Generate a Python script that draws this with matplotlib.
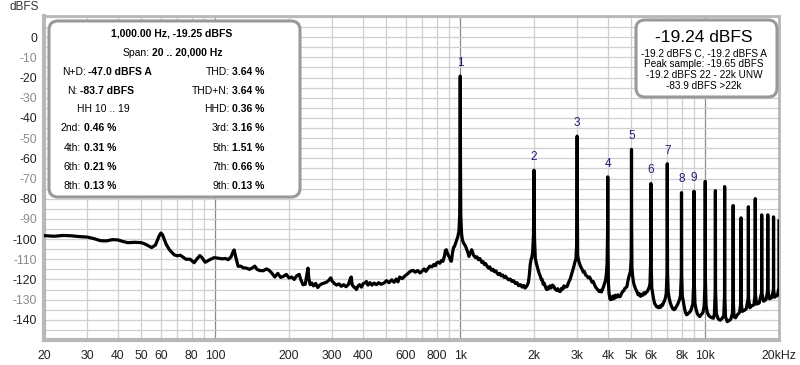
import matplotlib
matplotlib.use("Agg")
import matplotlib.pyplot as plt
from matplotlib.patches import FancyBboxPatch
from matplotlib.ticker import FixedLocator, NullFormatter

plt.rcParams["font.family"] = ["Liberation Sans", "DejaVu Sans"]

# ---------------------------------------------------------------------------
# Spectrum, (Hz, dBFS) pairs per frequency region
# ---------------------------------------------------------------------------
seg_20_600 = [
    (20, -98.3), (22, -98.6), (24, -98.2), (26, -98.4), (28, -98.8), (30, -99.0),
    (32, -99.8), (34, -100.8), (36, -100.9), (38, -100.3), (40, -100.4), (42, -101.2),
    (44, -101.8), (47, -101.6), (50, -101.8), (52, -102.6), (55, -104.2), (57, -103.0),
    (59, -98.5), (60, -97.0), (61, -98.0), (63, -102.5), (65, -105.3), (68, -107.8),
    (70, -108.3), (72, -108.0), (74, -109.0), (76, -110.0), (79, -110.0), (82, -111.7),
    (84, -110.0), (86.5, -108.2), (88, -109.0), (91, -111.5), (95, -110.2), (99, -109.2),
    (103, -109.5), (107, -109.8), (110, -109.6), (113, -110.2), (116, -108.8), (118.5, -106.0),
    (119.5, -105.4), (121, -108.5), (124, -113.5), (127, -113.4), (130, -114.2), (134, -114.4),
    (138, -115.0), (142, -114.2), (145, -113.4), (148, -115.0), (152, -115.6), (157, -115.7),
    (162, -114.8), (166, -115.5), (170, -116.8), (175, -118.8), (180, -117.0), (185, -119.0),
    (190, -118.4), (195, -117.5), (200, -119.3), (205, -118.8), (210, -120.0), (215, -118.2),
    (220, -117.5), (223, -119.8), (228, -122.6), (233, -122.4), (237, -117.0), (239, -114.4),
    (241, -119.5), (244, -122.6), (248, -121.8), (252, -123.2), (257, -122.0), (262, -124.0),
    (267, -122.8), (272, -122.2), (278, -121.8), (284, -121.4), (290, -120.6), (296, -119.2),
    (300, -120.8), (306, -122.0), (313, -122.8), (320, -122.2), (327, -123.4), (334, -122.6),
    (342, -123.6), (350, -122.4), (356, -119.5), (359, -118.8), (362, -122.6), (368, -123.8),
    (373, -124.2), (377, -125.0), (382, -123.4), (388, -122.6), (395, -123.8), (402, -122.0),
    (410, -121.6), (414, -121.0), (420, -122.8), (428, -121.6), (436, -122.8), (445, -121.8),
    (455, -122.6), (465, -121.6), (475, -122.4), (488, -121.8), (500, -120.6), (512, -121.6),
    (525, -120.2), (537, -121.4), (548, -119.8), (557, -121.2), (566, -118.8), (580, -119.6),
]

seg_600_2k = [
    (595, -118.2), (610, -117.2), (625, -116.0), (641, -115.5), (655, -116.4), (670, -115.6),
    (685, -116.8), (700, -115.8), (712, -114.8), (724, -116.0), (738, -114.6), (752, -113.4),
    (766, -113.8), (780, -112.6), (792, -113.2), (800, -111.9), (812, -111.4), (825, -112.0),
    (838, -110.6), (850, -111.0), (862, -108.4), (870, -105.6), (878, -105.3), (886, -107.0),
    (895, -108.2), (905, -109.2), (914, -110.8), (920, -111.0), (930, -106.8), (940, -104.0),
    (948, -103.6), (958, -102.0), (968, -100.5), (978, -98.7), (988, -96.0), (995, -88.0),
    (998, -60.0), (1000, -19.25), (1002, -60.0), (1005, -88.0), (1012, -97.0), (1020, -100.3),
    (1030, -101.8), (1040, -102.6), (1052, -103.6), (1063, -105.2), (1075, -106.8), (1085, -108.6),
    (1095, -107.2), (1105, -106.4), (1113, -105.3), (1120, -106.0), (1130, -107.8), (1140, -108.4),
    (1155, -109.2), (1170, -108.8), (1185, -110.2), (1200, -109.6), (1210, -110.2), (1225, -111.6),
    (1240, -111.2), (1255, -112.6), (1270, -112.2), (1288, -113.5), (1305, -114.4), (1320, -113.8),
    (1340, -115.4), (1360, -115.0), (1380, -116.2), (1400, -115.8), (1413, -116.8), (1430, -117.6),
    (1450, -117.0), (1470, -118.2), (1490, -117.8), (1510, -119.0), (1530, -118.4), (1550, -119.3),
    (1575, -120.2), (1600, -119.8), (1625, -121.0), (1650, -120.6), (1680, -122.0), (1705, -121.6),
    (1730, -123.1), (1760, -122.6), (1790, -123.8), (1815, -123.0), (1840, -124.3), (1865, -123.4),
    (1885, -122.4), (1900, -121.0), (1915, -117.5), (1930, -112.6), (1945, -110.2), (1960, -109.0),
    (1975, -106.5), (1990, -98.0), (1996, -85.0), (2000, -65.9), (2004, -85.0), (2010, -100.0),
    (2025, -109.5), (2045, -112.0), (2060, -113.5),
]

seg_2k_6k = [
    (2080, -115.4), (2100, -117.0), (2125, -118.6), (2145, -120.2), (2160, -120.0), (2180, -122.4),
    (2200, -121.8), (2225, -123.6), (2245, -124.8), (2260, -125.0), (2280, -123.8), (2300, -124.6),
    (2325, -123.2), (2350, -124.2), (2380, -122.8), (2410, -123.5), (2440, -124.8), (2470, -125.4),
    (2500, -124.6), (2530, -125.8), (2560, -126.0), (2590, -124.4), (2620, -124.8), (2650, -123.2),
    (2690, -123.8), (2730, -123.5), (2770, -121.4), (2810, -119.8), (2850, -117.2), (2880, -115.4),
    (2910, -113.5), (2940, -111.2), (2965, -110.0), (2985, -103.0), (2994, -85.0), (3000, -49.0),
    (3006, -85.0), (3015, -108.0), (3040, -110.6), (3070, -112.2), (3100, -113.6), (3150, -115.2),
    (3180, -116.4), (3210, -116.0), (3250, -117.8), (3290, -118.4), (3330, -119.2), (3370, -118.8),
    (3410, -120.0), (3450, -121.4), (3490, -121.0), (3530, -122.6), (3570, -123.8), (3610, -124.6),
    (3650, -125.2), (3690, -126.0), (3730, -125.4), (3770, -126.2), (3810, -124.8), (3850, -123.4),
    (3880, -122.0), (3920, -120.4), (3950, -117.0), (3975, -112.0), (3992, -98.0), (4000, -69.2),
    (4008, -100.0), (4025, -122.0), (4050, -127.0), (4080, -129.4), (4100, -130.0), (4140, -128.6),
    (4180, -129.8), (4220, -128.2), (4260, -129.4), (4300, -127.8), (4350, -128.8), (4400, -127.6),
    (4450, -128.6), (4500, -128.4), (4550, -127.0), (4600, -126.0), (4650, -125.6), (4700, -124.4),
    (4750, -124.0), (4790, -123.5), (4830, -121.0), (4870, -119.0), (4910, -117.5), (4950, -116.0),
    (4985, -110.0), (4994, -90.0), (5000, -55.6), (5006, -90.0), (5020, -114.0), (5050, -118.0),
    (5100, -121.8), (5150, -123.4), (5200, -124.8), (5260, -126.0), (5320, -127.6), (5380, -127.0),
    (5440, -128.4), (5500, -127.4), (5560, -127.8), (5620, -126.6), (5680, -127.2), (5740, -126.4),
    (5800, -126.0), (5850, -125.0), (5900, -124.0), (5950, -122.0), (5990, -110.0), (6000, -72.5),
    (6010, -110.0), (6050, -124.3),
]

seg_6k_20k = [
    (6100, -127.0), (6160, -130.0), (6220, -132.0), (6280, -132.8), (6340, -133.6), (6400, -133.4),
    (6460, -134.0), (6520, -133.2), (6580, -133.8), (6640, -132.6), (6700, -132.8), (6760, -131.4),
    (6820, -130.6), (6880, -129.0), (6930, -127.0), (6985, -116.0), (7000, -62.7), (7015, -116.0),
    (7060, -126.0), (7120, -129.0), (7200, -131.6), (7280, -133.2), (7360, -134.4), (7450, -135.0),
    (7540, -134.6), (7620, -133.4), (7700, -132.6), (7780, -131.2), (7850, -130.0), (7920, -128.0),
    (7985, -118.0), (8000, -77.0), (8015, -118.0), (8060, -128.0), (8140, -131.0), (8220, -134.0),
    (8300, -136.4), (8400, -137.5), (8500, -137.0), (8600, -136.4), (8700, -135.8), (8800, -134.2),
    (8900, -132.0), (8985, -120.0), (9000, -76.3), (9015, -120.0), (9080, -132.0), (9180, -135.0),
    (9300, -137.2), (9400, -137.8), (9500, -138.4), (9600, -137.6), (9700, -137.0), (9800, -136.2),
    (9900, -133.0), (9985, -120.0), (10000, -71.4), (10015, -120.0), (10080, -133.0), (10200, -136.4),
    (10350, -138.0), (10500, -138.6), (10650, -139.0), (10800, -139.2), (10900, -137.0), (10985, -125.0),
    (11000, -76.0), (11015, -125.0), (11100, -137.0), (11300, -139.6), (11500, -140.2), (11700, -139.4),
    (11900, -138.0), (11985, -128.0), (12000, -74.0), (12015, -128.0), (12100, -138.6), (12300, -140.9),
    (12500, -140.4), (12700, -139.8), (12900, -137.0), (12985, -130.0), (13000, -83.4), (13015, -130.0),
    (13100, -138.5), (13300, -139.0), (13500, -137.6), (13800, -136.4), (13985, -131.0), (14000, -89.5),
    (14015, -131.0), (14150, -135.8), (14400, -135.4), (14700, -134.6), (14985, -129.0), (15000, -84.0),
    (15015, -129.0), (15200, -134.0), (15500, -133.0), (15800, -132.6), (15985, -127.0), (16000, -80.0),
    (16015, -127.0), (16200, -132.2), (16600, -131.7), (16985, -126.5), (17000, -88.0), (17015, -126.5),
    (17300, -130.8), (17700, -130.0), (17985, -125.5), (18000, -88.0), (18015, -125.5), (18300, -129.6),
    (18700, -129.0), (18985, -125.0), (19000, -89.0), (19015, -125.0), (19200, -128.8), (19400, -128.4),
    (19700, -128.0), (19985, -124.0), (20000, -91.0),
]

# labelled harmonics 1..9
harmonic_hz = [1000, 2000, 3000, 4000, 5000, 6000, 7000, 8000, 9000]
harmonic_db = [-19.25, -65.9, -49.0, -69.2, -55.6, -72.5, -62.7, -77.0, -76.3]
harmonic_labels = ["1", "2", "3", "4", "5", "6", "7", "8", "9"]

x_ticks = [20, 30, 40, 50, 60, 80, 100, 200, 300, 400, 600, 800,
           1000, 2000, 3000, 4000, 5000, 6000, 8000, 10000, 20000]
x_tick_labels = ["20", "30", "40", "50", "60", "80", "100", "200", "300", "400", "600", "800",
                 "1k", "2k", "3k", "4k", "5k", "6k", "8k", "10k", "20kHz"]
y_ticks = list(range(0, -150, -10))

# left results box: (label, value) pairs per row, left and right column
left_rows = [("N+D:", "-47.0 dBFS A"), ("N:", "-83.7 dBFS"), (None, "HH 10 .. 19"),
             ("2nd:", "0.46 %"), ("4th:", "0.31 %"), ("6th:", "0.21 %"), ("8th:", "0.13 %")]
right_rows = [("THD:", "3.64 %"), ("THD+N:", "3.64 %"), ("HHD:", "0.36 %"),
              ("3rd:", "3.16 %"), ("5th:", "1.51 %"), ("7th:", "0.66 %"), ("9th:", "0.13 %")]
level_lines = ["-19.2 dBFS C, -19.2 dBFS A", "Peak sample: -19.65 dBFS",
               "-19.2 dBFS 22 - 22k UNW", "-83.9 dBFS >22k"]

# ---------------------------------------------------------------------------
W, H, DPI = 800, 365, 100
fig = plt.figure(figsize=(W / DPI, H / DPI), dpi=DPI)
fig.patch.set_facecolor("white")
ax = fig.add_axes([44 / W, 1 - 340 / H, (779 - 44) / W, (340 - 16) / H])

spectrum = seg_20_600 + seg_600_2k + seg_2k_6k + seg_6k_20k
hz = [p[0] for p in spectrum]
db = [p[1] for p in spectrum]
ax.plot(hz, db, color="black", lw=2.3, solid_joinstyle="round", zorder=3)

ax.set_xscale("log")
ax.set_xlim(20, 20000)
ax.set_ylim(-150, 10.5)

# grid
minor_x = [f * d for d in (10, 100, 1000) for f in range(2, 10)] + [20000]
for f in minor_x:
    ax.axvline(f, color="#cfcfcf", lw=0.9, zorder=1)
for f in (100, 1000, 10000):
    ax.axvline(f, color="#8c8c8c", lw=0.9, zorder=1)
for yv in range(-145, 11, 5):
    ax.axhline(yv, color="#cfcfcf", lw=0.9, zorder=1)

ax.xaxis.set_major_locator(FixedLocator(x_ticks))
ax.xaxis.set_minor_formatter(NullFormatter())
ax.set_xticks(x_ticks)
ax.set_xticklabels(x_tick_labels)
ax.set_yticks(y_ticks)
ax.set_yticklabels([str(v) for v in y_ticks])
ax.tick_params(axis="both", which="both", length=0, labelsize=8.8, colors="#222222")
ax.tick_params(axis="x", pad=7)
ax.tick_params(axis="y", pad=5)
for lbl, v in zip(ax.get_yticklabels(), y_ticks):
    lbl.set_color("#222222" if v % 20 == 0 else "#8a8a8a")

for sp in ax.spines.values():
    sp.set_color("#b8b8b8")
    sp.set_linewidth(2)
ax.spines["left"].set_linewidth(3)
ax.spines["bottom"].set_linewidth(3)

# harmonic numbers
for f, d, t in zip(harmonic_hz, harmonic_db, harmonic_labels):
    ax.annotate(t, (f, d), xytext=(0, 9.5), textcoords="offset points",
                ha="center", va="center", fontsize=8.5, color="#1e1e78", zorder=4)

fig.text(10 / W, 1 - 7 / H, "dBFS", fontsize=8.5, color="#333333", va="center", ha="left")

# ---------------------------------------------------------------------------
# text boxes (pixel positions converted to inches)
def px(x, y):
    return x / DPI, (H - y) / DPI


def box(x0, y0, x1, y1):
    bx, by = px(x0, y1)
    p = FancyBboxPatch((bx, by), (x1 - x0) / DPI, (y1 - y0) / DPI,
                       boxstyle="round,pad=0,rounding_size=0.09",
                       transform=fig.dpi_scale_trans, facecolor="white",
                       edgecolor="#999999", linewidth=2.2, zorder=5)
    fig.add_artist(p)


def txt(x, y, s, ha="left", bold=False, size=7.5):
    xi, yi = px(x, y)
    fig.text(xi, yi, s, transform=fig.dpi_scale_trans, ha=ha, va="center",
             fontsize=size, fontweight="bold" if bold else "normal", color="black", zorder=6)


box(49, 21, 300, 197)
txt(172, 33.5, "1,000.00 Hz, -19.25 dBFS", ha="center", bold=True)
txt(149.5, 52.5, "Span:", ha="right")
txt(152, 52.5, "20 .. 20,000 Hz", bold=True)

row_y = [71.7, 90.7, 109.5, 128.5, 147.7, 166.7, 185.7]
left_colon = [86, 78, None, 81, 81, 81, 81]
for y, (lab, val), xc in zip(row_y, left_rows, left_colon):
    if lab is None:
        txt(103.5, y, val, ha="center")
    else:
        txt(xc, y, lab, ha="right")
        txt(xc + 2.5, y, val, bold=True)
for y, (lab, val) in zip(row_y, right_rows):
    txt(229.5, y, lab, ha="right")
    txt(232, y, val, bold=True)

box(636, 20, 777, 97)
txt(704, 37, "-19.24 dBFS", ha="center", size=12.5)
for y, s in zip([53.3, 64.2, 75.2, 86.0], level_lines):
    txt(704, y, s, ha="center", size=7.2)

fig.savefig("out.png", dpi=DPI)
